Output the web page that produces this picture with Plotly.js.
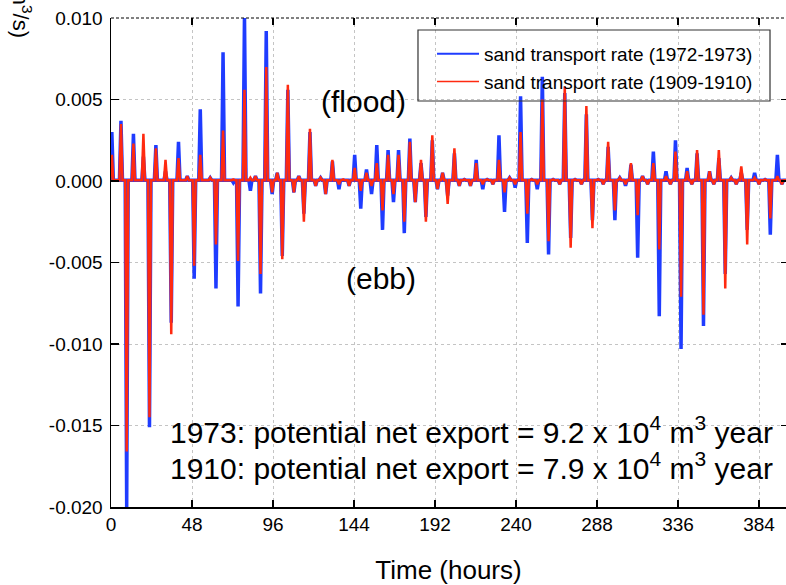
<!DOCTYPE html>
<html>
<head>
<meta charset="utf-8">
<script src="https://cdn.plot.ly/plotly-3.0.1.min.js"></script>
<style>html,body{margin:0;padding:0;background:#fff;}#chart{width:786px;height:585px;}</style>
</head>
<body>
<div id="chart"></div>
<script>
// Event times (hours) of each tidal spike
const hours = [0.5, 5.9, 9.3, 13.3, 19.2, 22.8, 26.6, 32.3, 35.7, 40.0, 45.2, 49.3, 52.9, 58.8, 62.2, 66.4, 72.5, 75.3, 79.1, 82.6,
  85.6, 88.6, 92.0, 95.5, 98.5, 101.5, 104.8, 108.4, 111.3, 114.3, 117.9, 121.3, 124.2, 127.2, 131.2, 135.1, 137.6, 141.1, 144.4, 148.0,
  151.4, 154.4, 157.5, 160.9, 164.2, 167.4, 170.4, 173.8, 177.1, 180.3, 183.7, 186.6, 190.4, 193.5, 196.5, 199.5, 203.5, 206.4, 209.4, 213.0,
  216.4, 220.3, 222.9, 226.3, 229.9, 233.2, 236.2, 239.5, 242.7, 246.7, 249.3, 252.6, 255.6, 259.3, 262.0, 265.9, 268.9, 272.4, 275.0, 278.8,
  281.7, 285.3, 288.7, 291.7, 294.6, 298.6, 301.5, 304.9, 308.1, 312.1, 315.0, 318.0, 321.4, 324.9, 328.9, 331.5, 334.5, 337.8, 341.4, 344.2,
  347.3, 351.1, 354.7, 357.2, 360.2, 364.0, 367.5, 370.5, 373.5, 377.0, 381.4, 384.0, 387.6, 390.7, 394.9, 397.6];

// Peak sand transport rate at each event, 1972-1973
const rate1973 = [0.0030, 0.0037, -0.0200, 0.0029, 0.0015, -0.0151, 0.0022, 0.0006, -0.0087, 0.0024, 0.0003, -0.0060, 0.0044, 0.0002, -0.0066, 0.0079, -0.0001, -0.0077, 0.0102, -0.0006,
  0.0003, -0.0069, 0.0092, -0.0008, 0.0005, -0.0046, 0.0056, -0.0007, 0.0003, -0.0020, 0.0030, -0.0003, 0.0002, -0.0008, 0.0012, -0.0005, 0.0001, -0.0003, 0.0016, -0.0017,
  0.0007, -0.0008, 0.0022, -0.0030, 0.0019, -0.0013, 0.0019, -0.0032, 0.0026, -0.0013, 0.0011, -0.0022, 0.0025, -0.0005, 0.0005, -0.0009, 0.0017, -0.0003, 0.0001, -0.0003,
  0.0013, -0.0005, 0.0001, -0.0002, 0.0028, -0.0019, 0.0002, -0.0004, 0.0052, -0.0038, 0.0001, -0.0005, 0.0064, -0.0045, 0.0001, -0.0002, 0.0054, -0.0035, 0.0001, -0.0002,
  0.0041, -0.0024, 0.0001, -0.0002, 0.0021, -0.0024, 0.0002, -0.0003, 0.0010, -0.0047, 0.0003, -0.0002, 0.0018, -0.0083, 0.0006, -0.0002, 0.0025, -0.0103, 0.0008, -0.0002,
  0.0017, -0.0089, 0.0006, -0.0002, 0.0014, -0.0057, 0.0002, -0.0002, 0.0005, -0.0030, 0.0005, -0.0002, 0.0001, -0.0033, 0.0016, -0.0002];

// Peak sand transport rate at each event, 1909-1910
const rate1910 = [0.0016, 0.0035, -0.0166, 0.0023, 0.0029, -0.0145, 0.0020, 0.0013, -0.0094, 0.0014, 0.0003, -0.0052, 0.0016, 0.0002, -0.0039, 0.0031, 0.0001, -0.0049, 0.0056, 0.0002,
  0.0003, -0.0057, 0.0070, -0.0007, 0.0005, -0.0048, 0.0059, -0.0007, 0.0003, -0.0025, 0.0032, -0.0003, 0.0002, -0.0008, 0.0013, -0.0002, 0.0001, -0.0003, 0.0008, -0.0006,
  0.0005, -0.0003, 0.0011, -0.0018, 0.0016, -0.0008, 0.0016, -0.0025, 0.0024, -0.0013, 0.0013, -0.0025, 0.0028, -0.0005, 0.0005, -0.0014, 0.0020, -0.0003, 0.0001, -0.0003,
  0.0011, -0.0002, 0.0001, -0.0002, 0.0013, -0.0007, 0.0002, -0.0002, 0.0030, -0.0020, 0.0001, -0.0002, 0.0050, -0.0037, 0.0001, -0.0002, 0.0058, -0.0041, 0.0001, -0.0002,
  0.0046, -0.0029, 0.0001, -0.0002, 0.0024, -0.0018, 0.0002, -0.0002, 0.0011, -0.0021, 0.0003, -0.0002, 0.0011, -0.0042, 0.0003, -0.0002, 0.0018, -0.0071, 0.0006, -0.0002,
  0.0019, -0.0082, 0.0006, -0.0002, 0.0019, -0.0066, 0.0002, -0.0002, 0.0009, -0.0039, 0.0002, -0.0002, 0.0001, -0.0023, 0.0003, -0.0002];

// Level of the line between spikes
const baseline = 0.00005;

const xTicks = [0, 48, 96, 144, 192, 240, 288, 336, 384];
const xTickLabels = ['0', '48', '96', '144', '192', '240', '288', '336', '384'];
const yTicks = [0.010, 0.005, 0.000, -0.005, -0.010, -0.015, -0.020];
const yTickLabels = ['0.010', '0.005', '0.000', '-0.005', '-0.010', '-0.015', '-0.020'];

const seriesNames = ['sand transport rate (1972-1973)', 'sand transport rate (1909-1910)'];
const BLUE = '#1f3cff', RED = '#ff2a10';

// build line coordinates: baseline – peak – baseline around each event
const spikeHalfWidth = 0.9;
function buildSeries(peaks) {
  const xs = [0], ys = [baseline];
  for (let i = 0; i < hours.length; i++) {
    xs.push(hours[i] - spikeHalfWidth, hours[i], hours[i] + spikeHalfWidth);
    ys.push(baseline, peaks[i], baseline);
  }
  xs.push(400); ys.push(baseline);
  return {xs, ys};
}
if (rate1973.length !== hours.length || rate1910.length !== hours.length) {
  console.error('length mismatch', hours.length, rate1973.length, rate1910.length);
}
const s73 = buildSeries(rate1973);
const s10 = buildSeries(rate1910);

const traces = [
  {x: s73.xs, y: s73.ys, type: 'scatter', mode: 'lines', name: seriesNames[0], showlegend: false,
   line: {color: BLUE, width: 3.5}, hoverinfo: 'skip'},
  {x: s10.xs, y: s10.ys, type: 'scatter', mode: 'lines', name: seriesNames[1], showlegend: false,
   line: {color: RED, width: 2.5}, hoverinfo: 'skip'},
  // legend entries (thin sample lines as in the reference)
  {x: [null], y: [null], type: 'scatter', mode: 'lines', name: seriesNames[0],
   line: {color: BLUE, width: 2}, hoverinfo: 'skip'},
  {x: [null], y: [null], type: 'scatter', mode: 'lines', name: seriesNames[1],
   line: {color: RED, width: 1.5}, hoverinfo: 'skip'},
  {x: [null], y: [null], xaxis: 'x2', yaxis: 'y2', type: 'scatter', mode: 'lines', showlegend: false, hoverinfo: 'skip'}
];

const FONT = 'Liberation Sans, Arial, Helvetica, sans-serif';
const layout = {
  width: 786, height: 585,
  margin: {l: 111, r: 0, t: 18, b: 78, pad: 0},
  paper_bgcolor: '#fff', plot_bgcolor: '#fff',
  font: {family: FONT, color: '#000', size: 19},
  showlegend: true,
  legend: {x: 0.4756, y: 0.9652, xanchor: 'left', yanchor: 'top', bgcolor: 'rgba(255,255,255,0)',
           borderwidth: 0, itemwidth: 42, font: {size: 19, family: FONT}},
  xaxis: {range: [0, 400], tickmode: 'array', tickvals: xTicks, ticktext: xTickLabels,
          ticks: 'inside', ticklen: 7, tickwidth: 1.5, tickcolor: '#000',
          showline: true, linecolor: '#000', linewidth: 1.5, mirror: false,
          showgrid: true, gridcolor: '#c4c4c4', griddash: 'dot', gridwidth: 1, zeroline: false,
          tickfont: {size: 19}, title: {text: 'Time (hours)', font: {size: 26}, standoff: 27}},
  yaxis: {range: [-0.020, 0.010], tickmode: 'array', tickvals: yTicks, ticktext: yTickLabels,
          ticks: 'inside', ticklen: 8, tickwidth: 1.5, tickcolor: '#000', ticklabelstandoff: 3,
          showline: true, linecolor: '#000', linewidth: 1.5, mirror: false,
          showgrid: true, gridcolor: '#c4c4c4', griddash: 'dot', gridwidth: 1, zeroline: false,
          tickfont: {size: 19}},
  xaxis2: {overlaying: 'x', side: 'top', range: [0, 400], tickmode: 'array', tickvals: xTicks,
           showticklabels: false, ticks: 'inside', ticklen: 7, tickwidth: 1.5, tickcolor: '#000',
           showgrid: false, zeroline: false, showline: false},
  yaxis2: {overlaying: 'y', side: 'right', range: [-0.020, 0.010], tickmode: 'array', tickvals: yTicks,
           showticklabels: false, ticks: 'inside', ticklen: 5, tickwidth: 1.5, tickcolor: '#000',
           showgrid: false, zeroline: false, showline: false},
  shapes: [
    {type: 'line', xref: 'paper', yref: 'paper', x0: 0, x1: 1, y0: 1, y1: 1,
     line: {color: '#000', width: 1, dash: '3px,2px'}},
    // legend frame
    {type: 'rect', xref: 'paper', yref: 'paper', x0: 0.4548, x1: 0.9763, y0: 0.8303, y1: 0.9755,
     line: {color: '#333', width: 1.2}, fillcolor: 'rgba(0,0,0,0)'}
  ],
  annotations: [
    {text: '(flood)', x: 149.8, y: 0.00485, xref: 'x', yref: 'y', showarrow: false,
     font: {size: 30}, xanchor: 'center', yanchor: 'middle'},
    {text: '(ebb)', x: 159.9, y: -0.0060, xref: 'x', yref: 'y', showarrow: false,
     font: {size: 30}, xanchor: 'center', yanchor: 'middle'},
    {text: '1973: potential net export = 9.2 x 10<sup>4</sup> m<sup>3</sup> year', x: 33.9, y: -0.01528,
     xref: 'x', yref: 'y', showarrow: false, font: {size: 30}, xanchor: 'left', yanchor: 'middle'},
    {text: '1910: potential net export = 7.9 x 10<sup>4</sup> m<sup>3</sup> year', x: 33.9, y: -0.01749,
     xref: 'x', yref: 'y', showarrow: false, font: {size: 30}, xanchor: 'left', yanchor: 'middle'},
    {text: '(m<sup>3</sup>/s)', x: -0.132, y: 1.018, xref: 'paper', yref: 'paper', showarrow: false,
     textangle: 90, font: {size: 22}, xanchor: 'center', yanchor: 'middle'}
  ]
};

Plotly.newPlot('chart', traces, layout, {staticPlot: true, displayModeBar: false});
</script>
</body>
</html>
